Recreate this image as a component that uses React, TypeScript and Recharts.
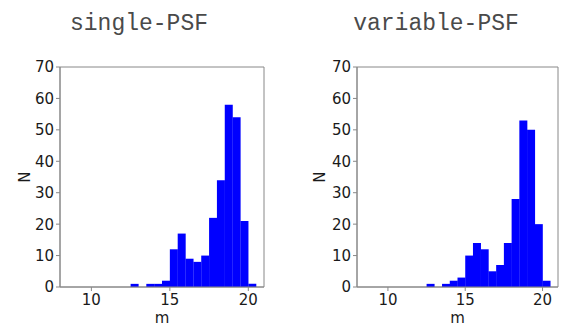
import { BarChart, Bar, XAxis, YAxis, ReferenceArea, Label } from "recharts";

// histogram bins of width 0.5 (centres)
const binCenters = [
  12.75, 13.25, 13.75, 14.25, 14.75, 15.25, 15.75, 16.25,
  16.75, 17.25, 17.75, 18.25, 18.75, 19.25, 19.75, 20.25,
];
const singleCounts = [1, 0, 1, 1, 2, 12, 17, 9, 8, 10, 22, 34, 58, 54, 21, 1];
const variableCounts = [1, 0, 1, 2, 3, 10, 14, 12, 5, 7, 14, 28, 53, 50, 20, 2];
const xTicks = [10, 15, 20];
const yTicks = [0, 10, 20, 30, 40, 50, 60, 70];
const titles = ["single-PSF", "variable-PSF"];

const frame = "#888888";
const font = "DejaVu Sans";
const labelStyle = { fontSize: 15, fill: "#1a1a1a", fontFamily: font };

const XTick = (p: any) => (
  <text x={p.x} y={p.y} dy="0.8em" textAnchor="middle" fontSize={15} fontFamily={font} fill="#1a1a1a">
    {p.payload.value}
  </text>
);

const YTick = (p: any) => (
  <text x={p.x} y={p.y} dy="0.36em" textAnchor="end" fontSize={15} fontFamily={font} fill="#1a1a1a">
    {p.payload.value}
  </text>
);

type HistProps = {
  title: string;
  counts: number[];
  left: number;
  margin: { top: number; right: number; bottom: number; left: number };
  titleCenter: number;
  nOffset: number;
};

function Hist({ title, counts, left, margin, titleCenter, nOffset }: HistProps) {
  const data = binCenters.map((m, i) => ({ m, n: counts[i] }));
  return (
    <div style={{ position: "absolute", left, top: 0, width: 290, height: 336 }}>
      <div
        style={{
          position: "absolute",
          top: 11,
          left: titleCenter - 100,
          width: 200,
          textAlign: "center",
          fontFamily: "Liberation Mono",
          fontSize: 23,
          color: "#4a4a4a",
        }}
      >
        {title}
      </div>
      <BarChart width={290} height={336} data={data} margin={margin} barCategoryGap={0} barGap={0}>
        <XAxis
          dataKey="m"
          type="number"
          domain={[8, 21]}
          ticks={xTicks}
          allowDataOverflow
          stroke={frame}
          tickSize={4}
          tick={XTick}
          height={45}
        >
          <Label value="m" position="insideBottom" offset={9} style={labelStyle} />
        </XAxis>
        <YAxis
          type="number"
          domain={[0, 70]}
          ticks={yTicks}
          stroke={frame}
          tickSize={4}
          tick={YTick}
          width={40}
        >
          <Label
            value="N"
            angle={-90}
            position="insideLeft"
            offset={nOffset}
            style={{ ...labelStyle, textAnchor: "middle" }}
          />
        </YAxis>
        <Bar dataKey="n" fill="#0000ff" isAnimationActive={false} />
        <ReferenceArea x1={8} x2={21} y1={0} y2={70} fill="none" stroke={frame} strokeWidth={1} />
      </BarChart>
    </div>
  );
}

export default function App() {
  return (
    <div style={{ position: "absolute", left: 0, top: 0, width: 581, height: 336, background: "#fff" }}>
      <Hist
        title={titles[0]}
        counts={singleCounts}
        left={0}
        margin={{ top: 67, right: 26, bottom: 4, left: 20 }}
        titleCenter={139}
        nOffset={5}
      />
      <Hist
        title={titles[1]}
        counts={variableCounts}
        left={290}
        margin={{ top: 67, right: 22, bottom: 4, left: 27 }}
        titleCenter={146}
        nOffset={3}
      />
    </div>
  );
}
